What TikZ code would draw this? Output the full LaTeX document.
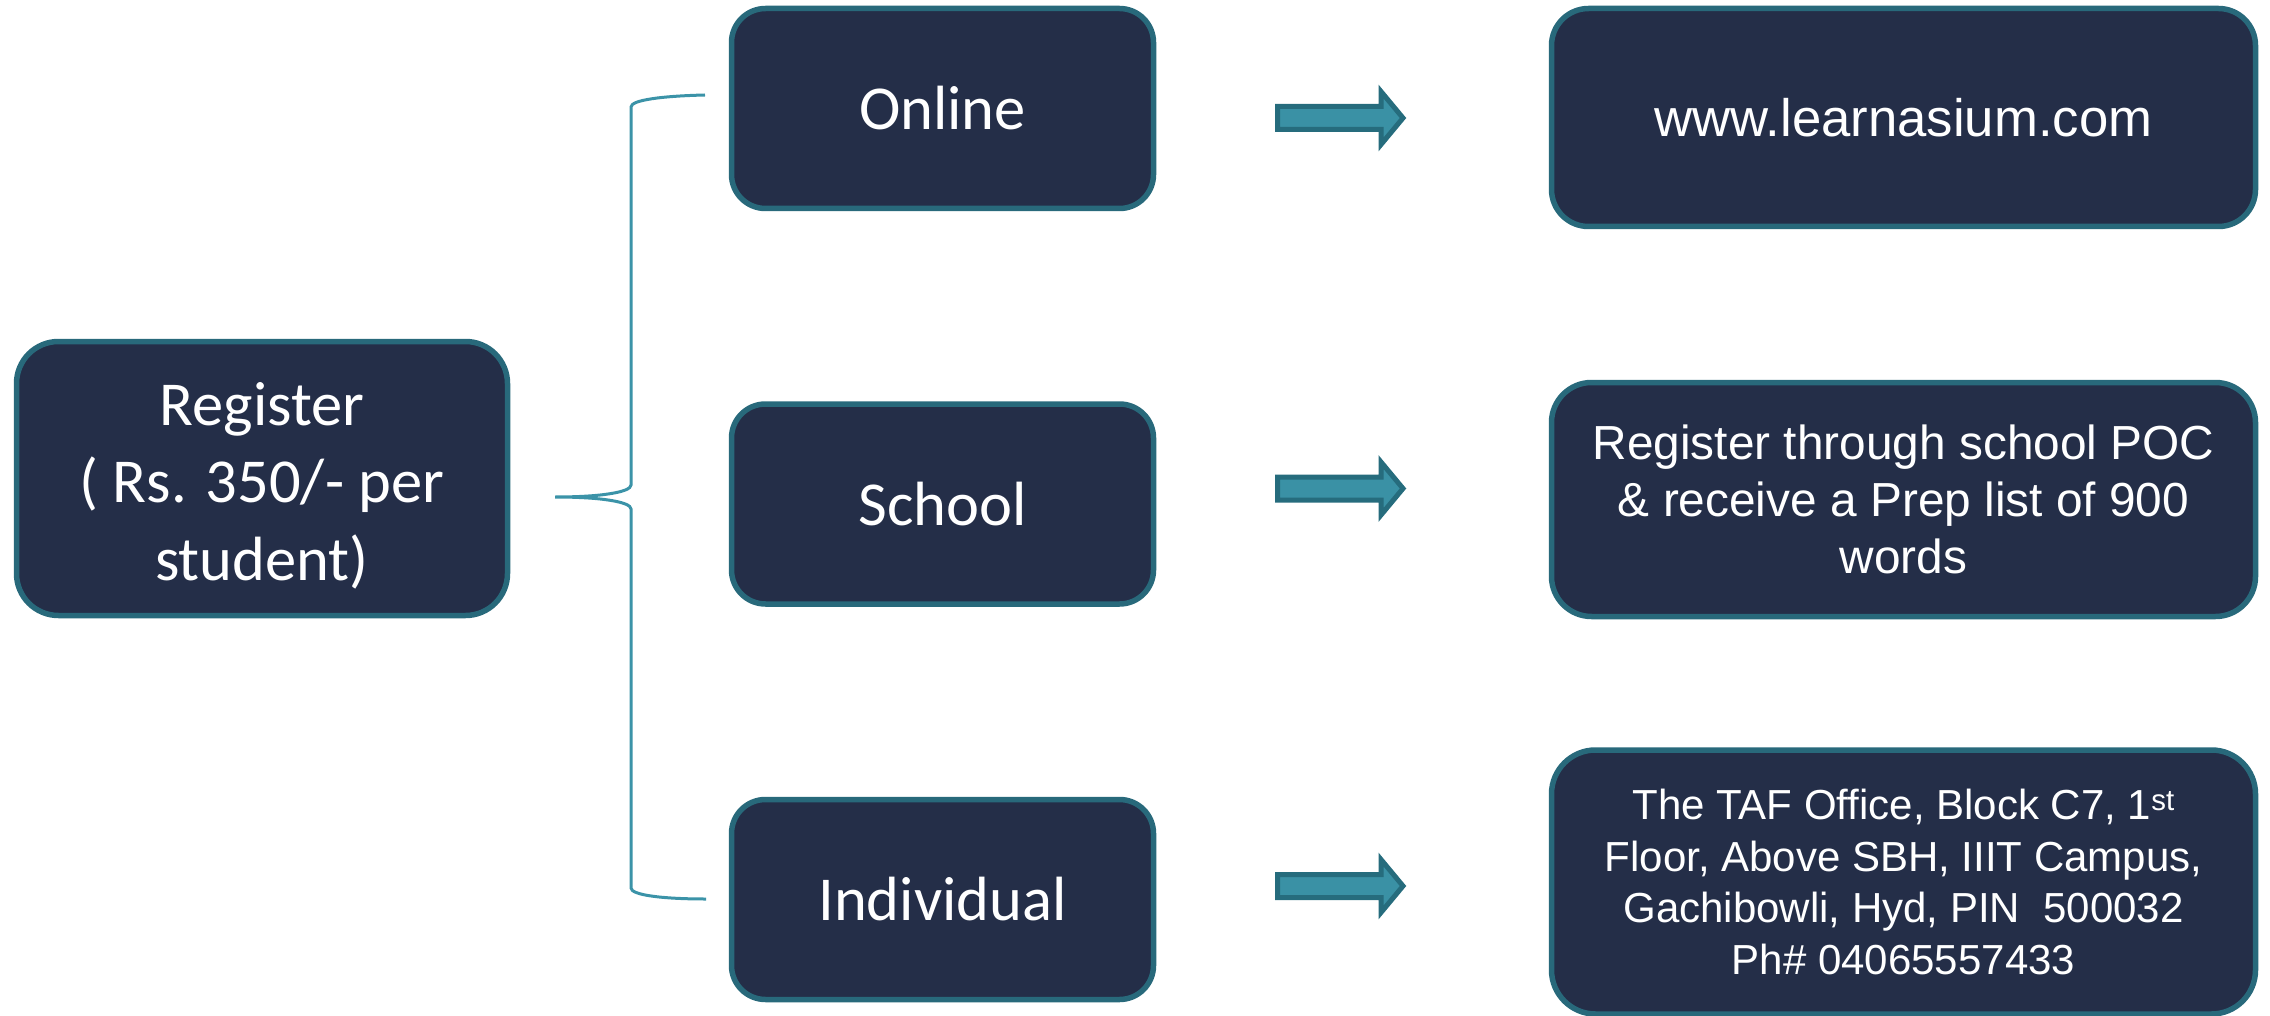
\documentclass[tikz,border=0pt]{standalone}
\usepackage{fontspec}
\setmainfont{Carlito}
\newfontfamily\arialf{Liberation Sans}
\definecolor{boxfill}{HTML}{242E48}
\definecolor{boxline}{HTML}{28697B}
\definecolor{arrfill}{HTML}{3A91A5}
\definecolor{arrline}{HTML}{266C7D}
\definecolor{bracec}{HTML}{3B93A8}
\begin{document}
\begin{tikzpicture}[x=1pt,y=-1pt,
  rbox/.style={draw=boxline, fill=boxfill, line width=5.5pt, rounded corners=#1,
    inner sep=0pt, text=white, align=center},
  midbox/.style={rbox=34pt, minimum width=422pt, minimum height=200pt,
    font={\fontsize{62.5pt}{77.5pt}\selectfont}},
  rightbox/.style={rbox=#1, minimum width=704pt},
  blockarrow/.style={draw=arrline, fill=arrfill, line width=5pt, line join=miter},
  bracepath/.style={draw=bracec, line width=3pt}]
\useasboundingbox (0,0) rectangle (2270,1016);

% left box
\node[rbox=42pt, minimum width=491pt, minimum height=274pt] (reg) at (262,478.5) {};
\node[text=white, align=center, inner sep=0pt,
  font={\fontsize{62.5pt}{77.5pt}\selectfont}] (regtext) at ([yshift=-7pt]reg.center)
  {Register\\( Rs. 350/- per\\student)};

% middle boxes
\node[midbox] (online) at (942.5,108.5) {Online};
\node[midbox] (school) at (942.5,504) {School};
\node[midbox] (indiv)  at (942.5,899.5) {Individual};

% right boxes
\node[rightbox=37pt, minimum height=218pt,
  font={\arialf\fontsize{52.7pt}{60pt}\selectfont}] (web) at (1903.5,117.5)
  {www.learnasium.com};
\node[rightbox=40pt, minimum height=234pt,
  font={\arialf\fontsize{47.8pt}{57pt}\selectfont}] (poc) at (1903.5,499.5)
  {Register through school POC\\\& receive a Prep list of 900\\words};
\node[rightbox=44pt, minimum height=264pt,
  font={\arialf\fontsize{42pt}{51.7pt}\selectfont}] (taf) at (1903.5,882)
  {The TAF Office, Block C7, 1\textsuperscript{st}\\Floor, Above SBH, IIIT Campus,\\Gachibowli, Hyd, PIN\ \ 500032\\Ph\# 04065557433};

% block arrows
\foreach \c in {118,488.5,886}{
  \draw[blockarrow] (1277.5,\c-11.5) -- (1381,\c-11.5) -- (1381,\c-26.5)
    -- (1403,\c) -- (1381,\c+26.5) -- (1381,\c+11.5) -- (1277.5,\c+11.5) -- cycle;
}

% brace
\coordinate (btip) at (555,497);
\coordinate (btop) at (705,95);
\coordinate (bbot) at (706,899);
\draw[bracepath] (btop) .. controls (662,96) and (631,100) .. (631,107)
  -- (631,485) .. controls (631,492) and (602,497) .. (btip)
  .. controls (602,497) and (631,502) .. (631,509)
  -- (631,888) .. controls (631,895) and (662,899) .. (bbot);
\end{tikzpicture}
\end{document}
